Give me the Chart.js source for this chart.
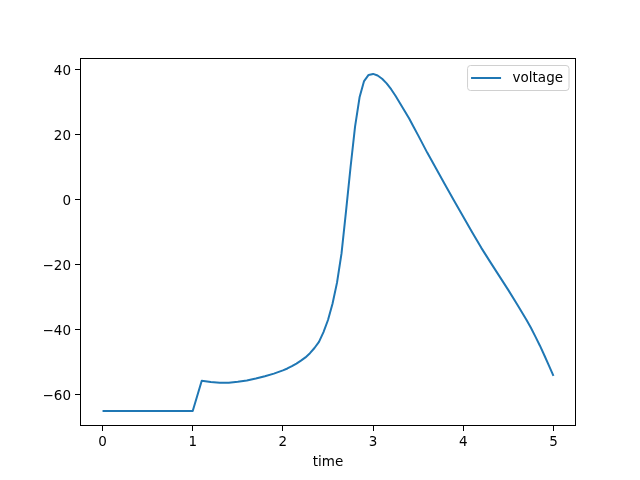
<!DOCTYPE html>
<html>
<head>
<meta charset="utf-8">
<script src="https://cdn.jsdelivr.net/npm/chart.js@4.4.1/dist/chart.umd.min.js"></script>
<style>
  html, body { margin: 0; padding: 0; background: #fff; }
  #wrap { width: 640px; height: 480px; }
</style>
</head>
<body>
<div id="wrap"><canvas id="c" width="640" height="480"></canvas></div>
<script>
const seriesLabel = 'voltage';
const xTitle = 'time';
const time = [0, 0.1, 0.2, 0.3, 0.4, 0.5, 0.6, 0.7, 0.8, 0.9, 1.0,
  1.1, 1.2, 1.3, 1.4, 1.5, 1.6, 1.7, 1.8, 1.9, 2.0,
  2.05, 2.1, 2.15, 2.2, 2.25, 2.3, 2.35, 2.4, 2.45, 2.5,
  2.55, 2.6, 2.65, 2.7, 2.75, 2.8, 2.85, 2.9, 2.95, 3.0,
  3.05, 3.1, 3.15, 3.2, 3.25, 3.3, 3.35, 3.4, 3.45, 3.5,
  3.6, 3.7, 3.8, 3.9, 4.0, 4.1, 4.2, 4.3, 4.4, 4.5,
  4.6, 4.7, 4.75, 4.8, 4.85, 4.9, 4.95, 5.0];
const voltage = [-65, -65, -65, -65, -65, -65, -65, -65, -65, -65, -65,
  -55.7, -56.1, -56.3, -56.3, -56.0, -55.6, -55.0, -54.3, -53.5, -52.5,
  -51.9, -51.2, -50.4, -49.5, -48.5, -47.2, -45.6, -43.7, -40.7, -37.0,
  -32.0, -25.5, -16.5, -3.5, 10.0, 22.5, 31.5, 36.5, 38.4, 38.7,
  38.2, 37.2, 35.8, 34.0, 31.9, 29.6, 27.3, 25.0, 22.4, 19.8,
  14.5, 9.5, 4.5, -0.4, -5.2, -10.1, -14.8, -19.2, -23.5, -27.8,
  -32.3, -36.9, -39.4, -42.1, -44.9, -47.9, -51.0, -54.2];
const xTicks = [0, 1, 2, 3, 4, 5];
const yTicks = [-60, -40, -20, 0, 20, 40];

const FONT = 'DejaVu Sans';
const lineColor = '#1f77b4';

const framePlugin = {
  id: 'frame',
  afterDatasetsDraw(chart) {
    const {ctx, chartArea: a} = chart;
    ctx.save();
    ctx.strokeStyle = '#000';
    ctx.lineWidth = 1;
    ctx.strokeRect(Math.round(a.left) + 0.5, Math.round(a.top) + 0.5,
                   Math.round(a.right - a.left) - 1, Math.round(a.bottom - a.top) - 1);
    ctx.restore();
  }
};

const legendPlugin = {
  id: 'mplLegend',
  afterDraw(chart) {
    const {ctx, chartArea: a} = chart;
    const ds = chart.data.datasets[0];
    ctx.save();
    ctx.font = '13.5px "' + FONT + '"';
    const tw = ctx.measureText(ds.label).width;
    const w = 45 + tw + 6;
    const h = 25;
    const x = a.right - 7 - w;
    const y = a.top + 7.5;
    const r = 3;
    ctx.beginPath();
    ctx.moveTo(x + r, y);
    ctx.lineTo(x + w - r, y);
    ctx.arcTo(x + w, y, x + w, y + r, r);
    ctx.lineTo(x + w, y + h - r);
    ctx.arcTo(x + w, y + h, x + w - r, y + h, r);
    ctx.lineTo(x + r, y + h);
    ctx.arcTo(x, y + h, x, y + h - r, r);
    ctx.lineTo(x, y + r);
    ctx.arcTo(x, y, x + r, y, r);
    ctx.closePath();
    ctx.fillStyle = 'rgba(255,255,255,0.8)';
    ctx.fill();
    ctx.strokeStyle = '#d0d0d0';
    ctx.lineWidth = 1;
    ctx.stroke();
    ctx.beginPath();
    ctx.moveTo(x + 3.5, y + h / 2);
    ctx.lineTo(x + 33.5, y + h / 2);
    ctx.strokeStyle = ds.borderColor;
    ctx.lineWidth = 2;
    ctx.stroke();
    ctx.fillStyle = '#000';
    ctx.textBaseline = 'middle';
    ctx.fillText(ds.label, x + 45, y + h / 2 + 0.5);
    ctx.restore();
  }
};

new Chart(document.getElementById('c'), {
  type: 'line',
  data: {
    datasets: [{
      label: seriesLabel,
      data: time.map((t, i) => ({x: t, y: voltage[i]})),
      borderColor: lineColor,
      backgroundColor: lineColor,
      borderWidth: 2,
      pointRadius: 0,
      tension: 0,
      fill: false,
      borderJoinStyle: 'round',
      borderCapStyle: 'butt'
    }]
  },
  options: {
    responsive: false,
    animation: false,
    layout: { padding: { left: 0, top: 58, right: 64, bottom: 0 } },
    plugins: {
      legend: { display: false },
      tooltip: { enabled: false }
    },
    scales: {
      x: {
        type: 'linear',
        min: -0.25,
        max: 5.25,
        afterBuildTicks(scale) { scale.ticks = xTicks.map(v => ({value: v})); },
        afterFit(scale) { scale.height = 54; },
        grid: { drawOnChartArea: false, drawTicks: true, tickLength: 5, color: '#000', tickColor: '#000' },
        border: { display: false },
        ticks: { color: '#000', font: { family: FONT, size: 13.5 }, padding: 3, maxRotation: 0,
                 callback: v => String(v) },
        title: { display: true, text: xTitle, color: '#000', font: { family: FONT, size: 13.5 }, padding: { top: 2, bottom: 9 } }
      },
      y: {
        type: 'linear',
        min: -69.6,
        max: 43.6,
        afterBuildTicks(scale) { scale.ticks = yTicks.map(v => ({value: v})); },
        afterFit(scale) { scale.width = 80; },
        grid: { drawOnChartArea: false, drawTicks: true, tickLength: 5, color: '#000', tickColor: '#000' },
        border: { display: false },
        ticks: { color: '#000', font: { family: FONT, size: 13.5 }, padding: 4, labelOffset: 1.5,
                 callback: v => String(v).replace('-', '\u2212') }
      }
    }
  },
  plugins: [framePlugin, legendPlugin]
});
</script>
</body>
</html>
